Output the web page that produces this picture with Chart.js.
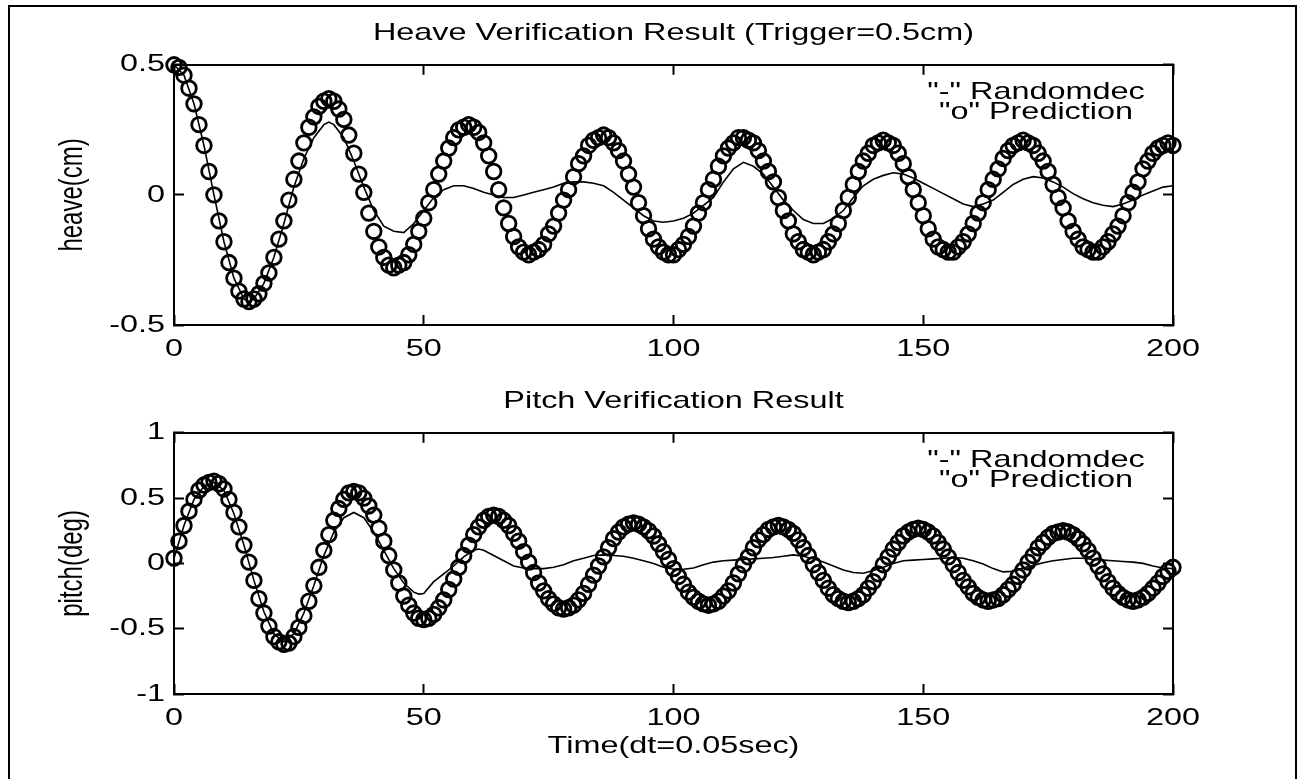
<!DOCTYPE html>
<html>
<head>
<meta charset="utf-8">
<title>Heave / Pitch Verification</title>
<script src="https://cdn.jsdelivr.net/npm/chart.js@4/dist/chart.umd.min.js"></script>
<style>
  html, body { margin: 0; padding: 0; background: #fff; overflow: hidden; }
  body { width: 1307px; height: 779px; position: relative; }
  .frame { position: absolute; left: 8px; top: 5px; width: 1285px; height: 800px; border: 2.5px solid #000; }
  canvas { position: absolute; left: 0; }
  #heaveChart { top: 0; }
  #pitchChart { top: 368px; }
</style>
</head>
<body>
<div class="frame"></div>
<canvas id="heaveChart" width="1307" height="368"></canvas>
<canvas id="pitchChart" width="1307" height="411"></canvas>
<script>
// sample index 0..200 (dt = 0.05 sec)
const timeSteps = Array.from({ length: 201 }, (_, i) => i);

const xTickValues = [0, 50, 100, 150, 200];
const heaveTickValues = [-0.5, 0, 0.5];
const pitchTickValues = [-1, -0.5, 0, 0.5, 1];

const legendLines = ['"-" Randomdec', '"o" Prediction'];

// "o" markers, one per sample
const heavePrediction = [
  0.50, 0.49, 0.46, 0.41, 0.35, 0.27, 0.19, 0.09, 0.00, -0.10, -0.18, -0.26, -0.32, -0.37, -0.40, -0.41,
  -0.40, -0.38, -0.34, -0.30, -0.24, -0.17, -0.10, -0.02, 0.06, 0.13, 0.20, 0.26, 0.30, 0.34, 0.36, 0.37,
  0.36, 0.33, 0.29, 0.23, 0.16, 0.08, 0.01, -0.07, -0.14, -0.20, -0.24, -0.27, -0.28,
  -0.27, -0.26, -0.23, -0.19, -0.14, -0.09, -0.03, 0.02, 0.08, 0.13, 0.18, 0.22, 0.25, 0.26, 0.27,
  0.26, 0.24, 0.20, 0.15, 0.09, 0.02, -0.05, -0.11, -0.16, -0.20, -0.22, -0.23,
  -0.22, -0.21, -0.19, -0.15, -0.12, -0.07, -0.02, 0.02, 0.07, 0.12, 0.15, 0.19, 0.21, 0.22, 0.23,
  0.22, 0.20, 0.17, 0.13, 0.08, 0.03, -0.03, -0.08, -0.13, -0.17, -0.20, -0.22, -0.23,
  -0.23, -0.21, -0.19, -0.16, -0.12, -0.07, -0.03, 0.02, 0.06, 0.11, 0.15, 0.18, 0.20, 0.22, 0.22,
  0.21, 0.20, 0.17, 0.13, 0.09, 0.05, -0.01, -0.06, -0.10, -0.15, -0.18, -0.21, -0.22, -0.23,
  -0.22, -0.21, -0.18, -0.15, -0.11, -0.06, -0.01, 0.04, 0.09, 0.13, 0.16, 0.19, 0.20, 0.21,
  0.20, 0.19, 0.16, 0.12, 0.07, 0.02, -0.03, -0.08, -0.13, -0.17, -0.20, -0.21, -0.22,
  -0.22, -0.20, -0.18, -0.15, -0.11, -0.07, -0.03, 0.02, 0.06, 0.10, 0.14, 0.17, 0.19, 0.20, 0.21,
  0.20, 0.19, 0.16, 0.13, 0.09, 0.04, -0.01, -0.05, -0.10, -0.14, -0.17, -0.20, -0.21, -0.22,
  -0.22, -0.20, -0.18, -0.15, -0.12, -0.08, -0.03, 0.01, 0.05, 0.10, 0.13, 0.16, 0.18, 0.19, 0.20, 0.19
];

// "-" line, [sample, value]
const heaveRandomdec = [
  [0, 0.50], [2, 0.46], [4, 0.35], [6, 0.19], [8, 0.00], [10, -0.18], [12, -0.32], [14, -0.40],
  [15, -0.41], [16, -0.40], [18, -0.34], [20, -0.24], [22, -0.11], [24, 0.03], [26, 0.14], [28, 0.22],
  [30, 0.27], [31, 0.28], [32, 0.27], [34, 0.22], [36, 0.13], [38, 0.03], [40, -0.06], [42, -0.12],
  [44, -0.14], [46, -0.145], [48, -0.11], [50, -0.06], [52, -0.01], [54, 0.02], [56, 0.035], [58, 0.035],
  [60, 0.025], [62, 0.01], [64, 0.0], [66, -0.01], [68, -0.01], [70, 0.0], [72, 0.01], [74, 0.02],
  [76, 0.03], [78, 0.045], [80, 0.05], [82, 0.05], [84, 0.045], [86, 0.035], [88, 0.01], [90, -0.02],
  [92, -0.05], [94, -0.08], [96, -0.10], [98, -0.105], [100, -0.10], [102, -0.09], [104, -0.07], [106, -0.04],
  [108, -0.01], [110, 0.05], [112, 0.10], [114, 0.125], [116, 0.11], [118, 0.08], [120, 0.03], [122, -0.02],
  [124, -0.06], [126, -0.095], [128, -0.11], [130, -0.11], [132, -0.09], [134, -0.06], [136, -0.01], [138, 0.035],
  [140, 0.06], [142, 0.075], [144, 0.085], [146, 0.08], [148, 0.065], [150, 0.045], [152, 0.025], [154, 0.005],
  [156, -0.015], [158, -0.035], [160, -0.045], [162, -0.035], [164, -0.02], [166, 0.01], [168, 0.04], [170, 0.06],
  [172, 0.07], [174, 0.065], [176, 0.05], [178, 0.03], [180, 0.005], [182, -0.015], [184, -0.03], [186, -0.04],
  [188, -0.045], [190, -0.035], [192, -0.02], [194, 0.0], [196, 0.015], [198, 0.03], [200, 0.035]
];

const pitchPrediction = [
  0.04, 0.17, 0.29, 0.40, 0.49, 0.56, 0.60, 0.62, 0.63,
  0.61, 0.57, 0.49, 0.39, 0.28, 0.14, 0.01, -0.13, -0.27, -0.38, -0.48, -0.56, -0.60, -0.62,
  -0.61, -0.56, -0.49, -0.40, -0.29, -0.17, -0.03, 0.10, 0.22, 0.33, 0.42, 0.49, 0.54, 0.55,
  0.54, 0.50, 0.44, 0.37, 0.27, 0.17, 0.06, -0.05, -0.15, -0.25, -0.32, -0.38, -0.42, -0.43,
  -0.42, -0.39, -0.34, -0.28, -0.20, -0.12, -0.03, 0.06, 0.14, 0.22, 0.28, 0.33, 0.36, 0.37,
  0.36, 0.33, 0.29, 0.23, 0.17, 0.09, 0.01, -0.07, -0.15, -0.21, -0.27, -0.31, -0.34, -0.35,
  -0.34, -0.32, -0.28, -0.23, -0.16, -0.09, -0.02, 0.05, 0.12, 0.19, 0.24, 0.28, 0.30, 0.31,
  0.30, 0.28, 0.25, 0.21, 0.15, 0.09, 0.03, -0.04, -0.10, -0.16, -0.22, -0.26, -0.29, -0.31, -0.32,
  -0.31, -0.29, -0.25, -0.21, -0.15, -0.08, -0.01, 0.05, 0.12, 0.18, 0.22, 0.26, 0.28, 0.29,
  0.28, 0.26, 0.23, 0.18, 0.12, 0.06, -0.01, -0.07, -0.13, -0.19, -0.24, -0.27, -0.29, -0.30,
  -0.29, -0.27, -0.24, -0.19, -0.14, -0.08, -0.01, 0.05, 0.11, 0.16, 0.21, 0.24, 0.26, 0.27,
  0.26, 0.24, 0.21, 0.16, 0.11, 0.05, -0.01, -0.07, -0.13, -0.18, -0.23, -0.26, -0.28, -0.29,
  -0.28, -0.27, -0.24, -0.20, -0.16, -0.10, -0.05, 0.01, 0.06, 0.12, 0.16, 0.20, 0.23, 0.24, 0.25,
  0.24, 0.22, 0.19, 0.15, 0.10, 0.04, -0.02, -0.08, -0.14, -0.19, -0.23, -0.26, -0.28, -0.29,
  -0.28, -0.26, -0.23, -0.19, -0.15, -0.10, -0.06, -0.03
];

const pitchRandomdec = [
  [0, 0.04], [2, 0.29], [4, 0.49], [6, 0.59], [8, 0.62], [10, 0.56], [12, 0.38], [14, 0.14],
  [16, -0.13], [18, -0.37], [20, -0.54], [22, -0.60], [24, -0.54], [26, -0.38], [28, -0.17], [30, 0.06],
  [32, 0.24], [34, 0.35], [36, 0.39], [38, 0.35], [40, 0.24], [42, 0.10], [44, -0.04], [46, -0.15],
  [48, -0.22], [49, -0.235], [50, -0.23], [52, -0.14], [54, -0.08], [56, -0.02], [58, 0.05], [60, 0.10],
  [61, 0.11], [62, 0.10], [64, 0.06], [66, 0.02], [68, -0.02], [70, -0.035], [72, -0.04], [74, -0.04],
  [76, -0.03], [78, -0.01], [80, 0.02], [82, 0.04], [84, 0.06], [86, 0.065], [88, 0.06], [90, 0.055],
  [92, 0.04], [94, 0.02], [96, 0.0], [98, -0.03], [100, -0.045], [102, -0.045], [104, -0.035], [106, -0.01],
  [108, 0.01], [110, 0.02], [112, 0.025], [114, 0.03], [116, 0.035], [118, 0.04], [120, 0.045], [122, 0.055],
  [124, 0.065], [126, 0.055], [128, 0.035], [130, 0.01], [132, -0.02], [134, -0.05], [136, -0.07], [138, -0.075],
  [140, -0.055], [142, -0.03], [144, 0.0], [146, 0.02], [148, 0.025], [150, 0.03], [152, 0.035], [154, 0.04],
  [156, 0.045], [158, 0.04], [160, 0.02], [162, -0.005], [164, -0.04], [166, -0.065], [168, -0.06], [170, -0.035],
  [172, -0.015], [174, 0.005], [176, 0.02], [178, 0.03], [180, 0.04], [182, 0.04], [184, 0.03], [186, 0.025],
  [188, 0.02], [190, 0.015], [192, 0.01], [194, 0.0], [196, -0.02], [198, -0.035], [200, -0.04]
];

const FONT = '"Liberation Sans", Arial, sans-serif';
const TEXT_STRETCH = 1.35; // the scanned figure has wide, flat lettering

// widen every fillText horizontally around its anchor point
const stretchText = (ctx) => {
  const fill = ctx.fillText;
  ctx.fillText = function (text, x, y) {
    const m = ctx.getTransform();
    const p = m.transformPoint(new DOMPoint(x, y));
    ctx.save();
    ctx.setTransform(new DOMMatrix().translate(p.x, p.y).scale(TEXT_STRETCH, 1).translate(-p.x, -p.y).multiply(m));
    fill.call(ctx, text, x, y);
    ctx.restore();
  };
  return ctx;
};

const legendText = {
  id: 'legendText',
  afterDatasetsDraw(chart) {
    const { ctx, chartArea } = chart;
    ctx.save();
    ctx.font = `24px ${FONT}`;
    ctx.fillStyle = '#000';
    ctx.textAlign = 'center';
    ctx.textBaseline = 'alphabetic';
    const cx = chartArea.right - 137;
    ctx.fillText(legendLines[0], cx, chartArea.top + 34);
    ctx.fillText(legendLines[1], cx, chartArea.top + 54);
    ctx.restore();
  }
};

const setTicks = (values) => (scale) => { scale.ticks = values.map(value => ({ value })); };

const edgeGrid = { drawOnChartArea: false, drawTicks: true, tickLength: -10, tickWidth: 2, tickColor: '#000', color: '#000' };
const edgeBorder = { display: true, width: 2, color: '#000' };

const createChart = (canvasId, cfg) => {
  const ctx = stretchText(document.getElementById(canvasId).getContext('2d'));
  return new Chart(ctx, {
    type: 'line',
    data: {
      datasets: [
        {
          label: 'Randomdec',
          data: cfg.line.map(([t, v]) => ({ x: t, y: v })),
          borderColor: '#000',
          borderWidth: 1.6,
          pointRadius: 0,
          fill: false,
          tension: 0,
          clip: false
        },
        {
          label: 'Prediction',
          data: cfg.markers.map((v, i) => ({ x: timeSteps[i], y: v })),
          showLine: false,
          pointStyle: 'circle',
          pointRadius: 7.3,
          pointBorderWidth: 2.8,
          pointBorderColor: '#000',
          pointBackgroundColor: 'rgba(0,0,0,0)',
          clip: false
        }
      ]
    },
    options: {
      responsive: false,
      animation: false,
      devicePixelRatio: 1,
      // left pad + y axis = 174px, right axis box = 134px, so the title centres over the plot
      layout: { padding: { left: 40, right: 0, top: 0, bottom: 0 } },
      plugins: {
        legend: { display: false },
        tooltip: { enabled: false },
        title: {
          display: true,
          text: cfg.title,
          color: '#000',
          font: { family: FONT, size: 24, weight: 'normal' },
          padding: { top: 18.6, bottom: 0 }
        }
      },
      scales: {
        x: {
          type: 'linear',
          position: 'bottom',
          min: 0,
          max: 200,
          afterBuildTicks: setTicks(xTickValues),
          afterFit: (s) => { s.height = cfg.xAxisHeight; },
          grid: edgeGrid,
          border: edgeBorder,
          ticks: { color: '#000', padding: 20, maxRotation: 0, autoSkip: false, font: { family: FONT, size: 24 } },
          title: {
            display: !!cfg.xTitle,
            text: cfg.xTitle || '',
            color: '#000',
            font: { family: FONT, size: 24 },
            padding: { top: 0, bottom: 18.6 }
          }
        },
        xTop: {
          type: 'linear',
          position: 'top',
          min: 0,
          max: 200,
          afterBuildTicks: setTicks(xTickValues),
          afterFit: (s) => { s.height = 17.4; },
          grid: edgeGrid,
          border: edgeBorder,
          ticks: { display: false }
        },
        y: {
          type: 'linear',
          position: 'left',
          min: cfg.yTicks[0],
          max: cfg.yTicks[cfg.yTicks.length - 1],
          afterBuildTicks: setTicks(cfg.yTicks),
          afterFit: (s) => { s.width = 134; },
          grid: edgeGrid,
          border: edgeBorder,
          ticks: { color: '#000', padding: 19, font: { family: FONT, size: 24 }, callback: (v) => String(v) },
          title: {
            display: true,
            text: cfg.yTitle,
            color: '#000',
            font: { family: FONT, size: 24 },
            padding: { top: 18.6, bottom: 0 }
          }
        },
        yRight: {
          type: 'linear',
          position: 'right',
          min: cfg.yTicks[0],
          max: cfg.yTicks[cfg.yTicks.length - 1],
          afterBuildTicks: setTicks(cfg.yTicks),
          afterFit: (s) => { s.width = 134; },
          grid: edgeGrid,
          border: edgeBorder,
          ticks: { display: false }
        }
      }
    },
    plugins: [legendText]
  });
};

createChart('heaveChart', {
  title: 'Heave Verification Result (Trigger=0.5cm)',
  yTitle: 'heave(cm)',
  yTicks: heaveTickValues,
  line: heaveRandomdec,
  markers: heavePrediction,
  xAxisHeight: 43
});

createChart('pitchChart', {
  title: 'Pitch Verification Result',
  yTitle: 'pitch(deg)',
  xTitle: 'Time(dt=0.05sec)',
  yTicks: pitchTickValues,
  line: pitchRandomdec,
  markers: pitchPrediction,
  xAxisHeight: 85
});
</script>
</body>
</html>
